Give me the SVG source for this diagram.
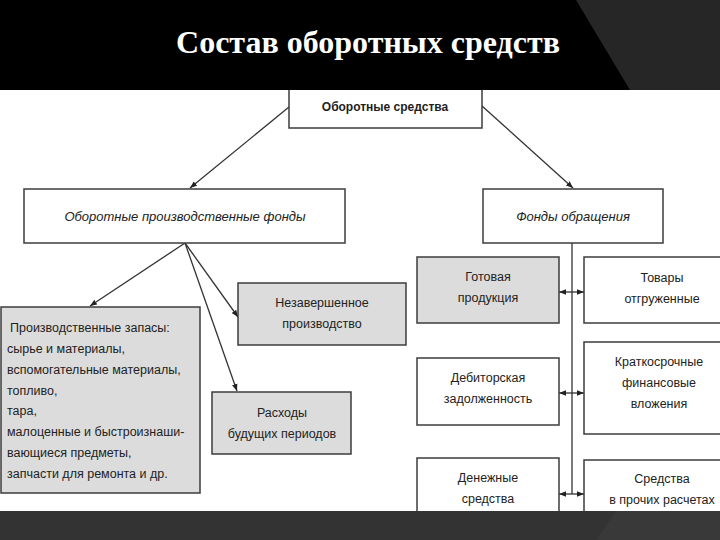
<svg xmlns="http://www.w3.org/2000/svg" width="720" height="540" viewBox="0 0 720 540">
<defs>
<style>
.box{fill:#ffffff;stroke:#3c3c3c;stroke-width:1.5}
.gray{fill:#dcdcdc;stroke:#3c3c3c;stroke-width:1.5}
.t{font-family:"Liberation Sans",Arial,sans-serif;font-size:12.5px;fill:#222;text-anchor:middle}
.tl{font-family:"Liberation Sans",Arial,sans-serif;font-size:12.5px;fill:#222}
.ti{font-family:"Liberation Sans",Arial,sans-serif;font-size:13px;font-style:italic;fill:#222;text-anchor:middle}
.tb{font-family:"Liberation Sans",Arial,sans-serif;font-size:12px;font-weight:bold;fill:#1e1e1e;text-anchor:middle}
.ln{stroke:#333;stroke-width:1.3;fill:none}
</style>
<marker id="ah" viewBox="0 0 10 10" refX="10" refY="5" markerWidth="7" markerHeight="7" markerUnits="userSpaceOnUse" orient="auto-start-reverse">
<path d="M0,1 L10,5 L0,9 z" fill="#222"/>
</marker>
</defs>
<rect x="0" y="0" width="720" height="540" fill="#ffffff"/>

<g id="connectors">
<line class="ln" x1="289" y1="107" x2="190" y2="188" marker-end="url(#ah)"/>
<line class="ln" x1="482" y1="106" x2="573" y2="188" marker-end="url(#ah)"/>
<line class="ln" x1="185" y1="243" x2="90" y2="306" marker-end="url(#ah)"/>
<line class="ln" x1="185" y1="243" x2="238" y2="317" marker-end="url(#ah)"/>
<line class="ln" x1="185" y1="243" x2="237" y2="391" marker-end="url(#ah)"/>
<line class="ln" x1="572" y1="243" x2="572" y2="494"/>
<line class="ln" x1="559" y1="292" x2="584" y2="292" marker-start="url(#ah)" marker-end="url(#ah)"/>
<line class="ln" x1="559" y1="393" x2="584" y2="393" marker-start="url(#ah)" marker-end="url(#ah)"/>
<line class="ln" x1="559" y1="494" x2="584" y2="494" marker-start="url(#ah)" marker-end="url(#ah)"/>
</g>

<g id="n-oborotnye-sredstva">
<rect class="box" x="289" y="70" width="193" height="58"/>
<text class="tb" x="385" y="111">Оборотные средства</text>
</g>

<g id="n-proizv-fondy">
<rect class="box" x="24" y="189" width="321" height="54"/>
<text class="ti" x="185" y="221">Оборотные производственные фонды</text>
</g>

<g id="n-fondy-obrashcheniya">
<rect class="box" x="483" y="189" width="180" height="54"/>
<text class="ti" x="573" y="221">Фонды обращения</text>
</g>

<g id="n-zapasy">
<rect class="gray" x="1" y="307" width="199" height="186"/>
<text class="tl" x="10" y="332">Производственные запасы:</text>
<text class="tl" x="7" y="353">сырье и материалы,</text>
<text class="tl" x="7" y="374">вспомогательные материалы,</text>
<text class="tl" x="7" y="395">топливо,</text>
<text class="tl" x="7" y="415">тара,</text>
<text class="tl" x="7" y="436">малоценные и быстроизнаши-</text>
<text class="tl" x="7" y="457">вающиеся предметы,</text>
<text class="tl" x="7" y="478">запчасти для ремонта и др.</text>
</g>

<g id="n-nezavershennoe">
<rect class="gray" x="238" y="283" width="168" height="62"/>
<text class="t" x="322" y="307">Незавершенное</text>
<text class="t" x="322" y="328">производство</text>
</g>

<g id="n-raskhody">
<rect class="gray" x="212" y="392" width="139" height="62"/>
<text class="t" x="282" y="417">Расходы</text>
<text class="t" x="282" y="438">будущих периодов</text>
</g>

<g id="n-gotovaya">
<rect class="gray" x="417" y="257" width="142" height="66"/>
<text class="t" x="488" y="281">Готовая</text>
<text class="t" x="488" y="302">продукция</text>
</g>

<g id="n-tovary">
<rect class="box" x="584" y="257" width="160" height="66"/>
<text class="t" x="662" y="282">Товары</text>
<text class="t" x="662" y="303">отгруженные</text>
</g>

<g id="n-debitorskaya">
<rect class="box" x="417" y="358" width="142" height="67"/>
<text class="t" x="488" y="382">Дебиторская</text>
<text class="t" x="488" y="403">задолженность</text>
</g>

<g id="n-kratkosrochnye">
<rect class="box" x="584" y="342" width="160" height="92"/>
<text class="t" x="659" y="366">Краткосрочные</text>
<text class="t" x="659" y="387">финансовые</text>
<text class="t" x="659" y="408">вложения</text>
</g>

<g id="n-denezhnye">
<rect class="box" x="417" y="458" width="142" height="70"/>
<text class="t" x="488" y="482">Денежные</text>
<text class="t" x="488" y="503">средства</text>
</g>

<g id="n-prochie">
<rect class="box" x="584" y="460" width="160" height="70"/>
<text class="t" x="662" y="483">Средства</text>
<text class="t" x="662" y="504">в прочих расчетах</text>
</g>

<g id="header">
<rect x="0" y="0" width="720" height="90" fill="#000000"/>
<polygon points="576,0 720,0 720,90 630,90" fill="#262626"/>
<text x="368" y="53" font-family="'Liberation Serif','Times New Roman',serif" font-size="32" font-weight="bold" fill="#ffffff" text-anchor="middle">Состав оборотных средств</text>
</g>

<g id="footer">
<rect x="0" y="511" width="720" height="29" fill="#333333"/>
<polygon points="616,511 720,511 720,540 596,540" fill="#393939"/>
</g>
</svg>
